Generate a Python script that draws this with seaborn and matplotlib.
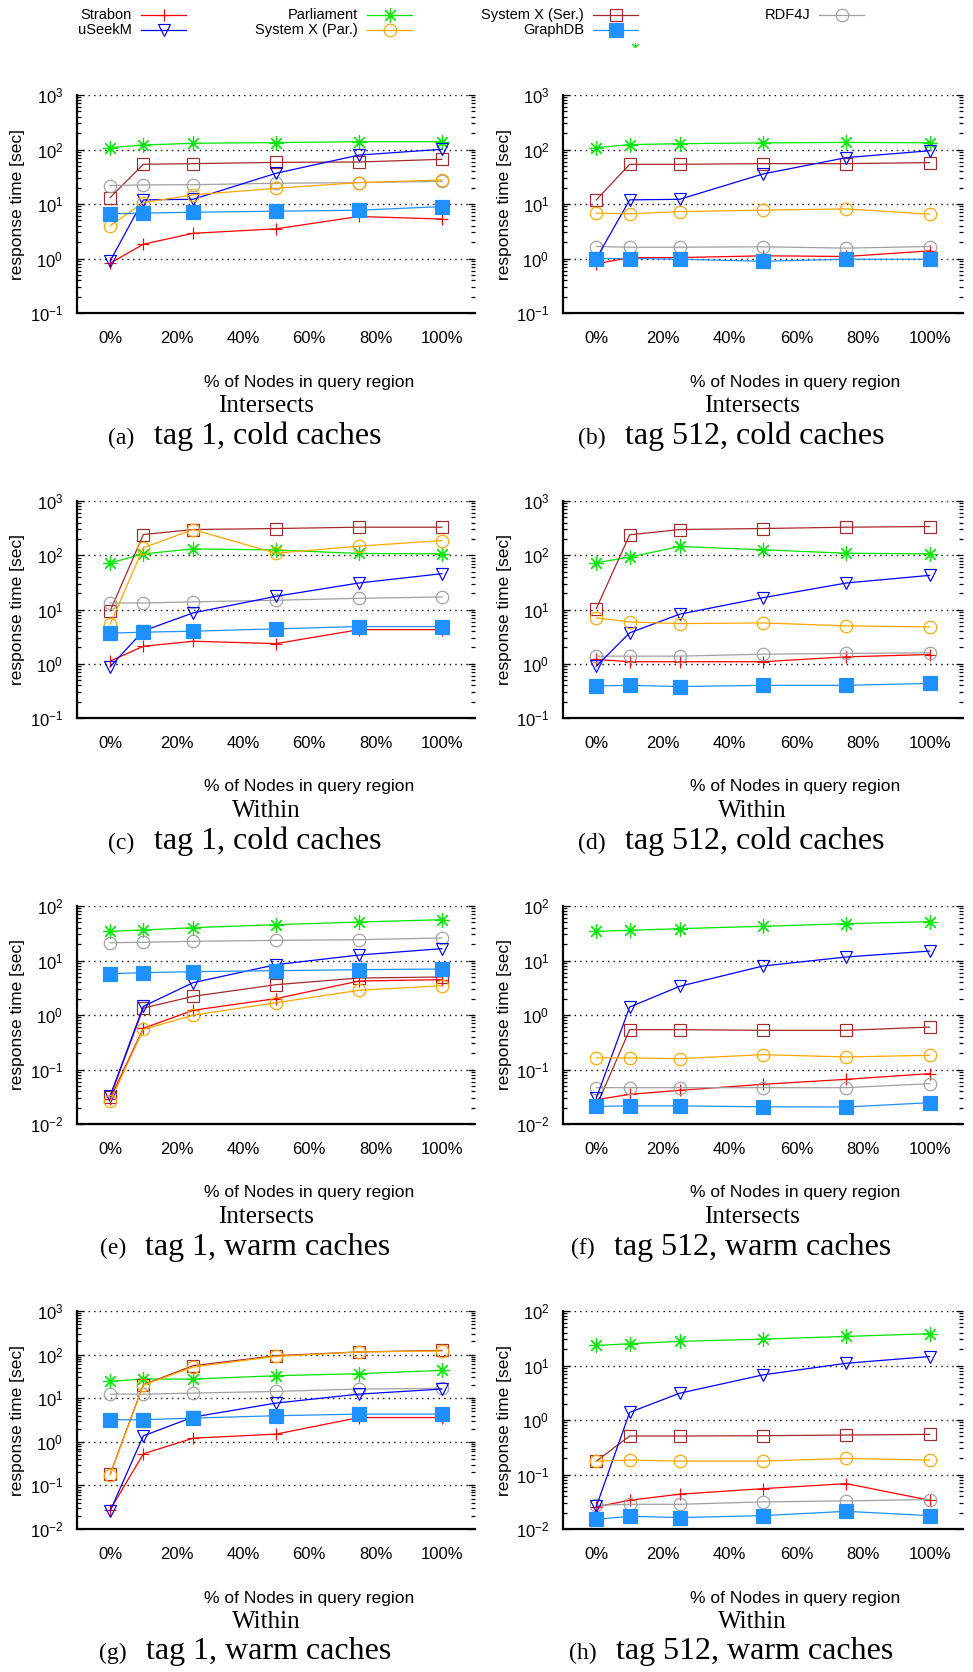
import numpy as np
import pandas as pd
import matplotlib
matplotlib.use('Agg')
import matplotlib.pyplot as plt
import seaborn as sns
from matplotlib.lines import Line2D
from matplotlib.path import Path
from matplotlib.offsetbox import TextArea, HPacker, AnnotationBbox
from matplotlib.ticker import LogLocator, NullFormatter

plt.rcParams['font.family'] = ['Liberation Sans', 'DejaVu Sans']
plt.rcParams['axes.unicode_minus'] = False
SERIF = ['Liberation Serif', 'DejaVu Serif']

# x: % of nodes in the query region
pct = [0, 10, 25, 50, 75, 100]

# response time [sec]; one row per panel (a) ... (h)
strabon = [
    [0.82, 1.83, 2.9, 3.5, 5.9, 5.3],
    [0.8, 1.04, 1.04, 1.12, 1.09, 1.38],
    [1.12, 2.1, 2.6, 2.35, 4.25, 4.25],
    [1.2, 1.09, 1.09, 1.09, 1.34, 1.48],
    [0.029, 0.57, 1.22, 2.0, 4.2, 4.45],
    [0.028, 0.035, 0.0415, 0.0535, 0.066, 0.084],
    [0.0275, 0.53, 1.21, 1.5, 3.6, 3.6],
    [0.0255, 0.0337, 0.0435, 0.055, 0.068, 0.0337],
]
parliament = [
    [108, 121, 130, 134, 139, 139],
    [108, 123, 128, 132, 135, 133],
    [72, 106, 131, 125, 108, 106],
    [72.7, 92.4, 145, 126, 109, 106],
    [34.3, 36.3, 40, 45.4, 50.8, 56.1],
    [34.3, 35.8, 38.4, 42.4, 47.4, 51.6],
    [24.3, 27.5, 27.5, 32.8, 36.5, 43.5],
    [23.3, 25.1, 27.7, 30.5, 34.2, 38.3],
]
sysx_ser = [
    [13.1, 53.5, 55, 58, 59, 66],
    [11.9, 53.5, 53.5, 55, 55, 57.4],
    [9.4, 241, 298, 311, 329, 329],
    [10.4, 238, 298, 311, 329, 338],
    [0.031, 1.34, 2.2, 3.6, 4.77, 4.98],
    [0.021, 0.538, 0.538, 0.523, 0.523, 0.60],
    [0.18, 20.4, 55.7, 94.5, 115, 125],
    [0.176, 0.508, 0.508, 0.515, 0.53, 0.545],
]
rdf4j = [
    [21.8, 22.4, 22.6, 24, 24.7, 26],
    [1.66, 1.61, 1.61, 1.64, 1.55, 1.66],
    [13.2, 13.2, 13.8, 14.8, 16.1, 17.0],
    [1.38, 1.38, 1.38, 1.5, 1.55, 1.59],
    [21.2, 21.6, 22.5, 23.4, 24.1, 25.9],
    [0.0464, 0.0464, 0.0464, 0.0464, 0.0464, 0.055],
    [12.4, 12.4, 13.1, 14.3, 16.2, 16.8],
    [0.0272, 0.0284, 0.0284, 0.0314, 0.0328, 0.0347],
]
useekm = [
    [0.9, 11.9, 12.2, 36.6, 79, 101],
    [1.0, 11.9, 12.2, 35.6, 71, 95],
    [0.88, 4.04, 8.65, 17.5, 30.8, 45.7],
    [0.9, 3.71, 8.2, 16.5, 30.8, 42.6],
    [0.033, 1.44, 3.92, 8.39, 12.6, 16.5],
    [0.03, 1.40, 3.36, 7.93, 11.6, 14.9],
    [0.026, 1.37, 3.69, 7.73, 12.4, 16.2],
    [0.026, 1.38, 3.1, 6.73, 11.0, 14.6],
]
sysx_par = [
    [4.0, 10.6, 14.7, 19.4, 24.7, 27.6],
    [6.78, 6.6, 7.26, 7.7, 8.13, 6.5],
    [5.35, 137, 298, 109, 147, 187],
    [7.0, 5.9, 5.5, 5.66, 4.99, 4.78],
    [0.026, 0.546, 0.99, 1.68, 2.84, 3.45],
    [0.163, 0.163, 0.158, 0.187, 0.17, 0.182],
    [0.175, 20, 52, 91, 115, 121],
    [0.176, 0.184, 0.176, 0.176, 0.197, 0.184],
]
graphdb = [
    [6.6, 6.8, 7.06, 7.37, 7.7, 8.97],
    [0.99, 1.0, 0.97, 0.89, 0.97, 0.97],
    [3.66, 3.82, 3.98, 4.4, 4.85, 4.85],
    [0.39, 0.40, 0.38, 0.40, 0.40, 0.435],
    [5.74, 5.98, 6.24, 6.5, 6.79, 6.98],
    [0.021, 0.0215, 0.0215, 0.0207, 0.0205, 0.0246],
    [3.2, 3.2, 3.5, 3.96, 4.32, 4.32],
    [0.0151, 0.0171, 0.0162, 0.0176, 0.0211, 0.0176],
]

panel_tags = ['(a)', '(b)', '(c)', '(d)', '(e)', '(f)', '(g)', '(h)']
captions = ['tag 1, cold caches', 'tag 512, cold caches',
            'tag 1, cold caches', 'tag 512, cold caches',
            'tag 1, warm caches', 'tag 512, warm caches',
            'tag 1, warm caches', 'tag 512, warm caches']
predicates = ['Intersects', 'Intersects', 'Within', 'Within',
              'Intersects', 'Intersects', 'Within', 'Within']
ylims = [(1e-1, 1e3), (1e-1, 1e3), (1e-1, 1e3), (1e-1, 1e3),
         (1e-2, 1e2), (1e-2, 1e2), (1e-2, 1e3), (1e-2, 1e2)]

# plotting order follows the gnuplot key (GraphDB ends up on top)
series = [
    ('Strabon', strabon, '#ff0000', '+', 8, False),
    ('Parliament', parliament, '#00e600', (8, 2, 0), 10.5, False),
    ('System X (Ser.)', sysx_ser, '#a52a2a', 's', 9, False),
    ('RDF4J', rdf4j, '#a0a0a0', 'o', 9, False),
    ('uSeekM', useekm, '#0000ff', 'v', 8.5, False),
    ('System X (Par.)', sysx_par, '#ffa500', 'o', 9, False),
    ('GraphDB', graphdb, '#1e90ff', 's', 9.5, True),
]

rows = []
for name, vals, *_ in series:
    for p, row in enumerate(vals):
        for x, v in zip(pct, row):
            rows.append({'panel': p, 'system': name, 'pct': x, 'time': v})
df = pd.DataFrame(rows)

W, H = 973, 1672
fig = plt.figure(figsize=(W / 100, H / 100), dpi=100)

col_x = [(77, 475), (563, 963)]
row_y = [(95, 313), (501, 718), (906, 1124), (1311, 1529)]


def fx(px):
    return px / W


def fy(py):
    return 1 - py / H


for p in range(8):
    l, r = col_x[p % 2]
    t, b = row_y[p // 2]
    ax = fig.add_axes([fx(l), fy(b), (r - l) / W, (b - t) / H])
    sub = df[df['panel'] == p]
    for k, (name, vals, c, m, ms, filled) in enumerate(series):
        d = sub[sub['system'] == name]
        sns.lineplot(data=d, x='pct', y='time', ax=ax, color=c, marker=m,
                     markersize=ms, mec=c, mfc=c if filled else 'none',
                     mew=0.85, lw=0.9, estimator=None, legend=False,
                     zorder=3 + k)
    ax.set_yscale('log')
    ax.set_ylim(*ylims[p])
    ax.set_xlim(-10, 110)
    ax.yaxis.set_major_locator(LogLocator(base=10, numticks=12))
    ax.yaxis.set_minor_locator(LogLocator(base=10, subs=np.arange(2, 10), numticks=12))
    ax.yaxis.set_minor_formatter(NullFormatter())
    ax.set_xticks([0, 20, 40, 60, 80, 100])
    ax.set_xticklabels(['0%', '20%', '40%', '60%', '80%', '100%'])
    ax.tick_params(axis='x', length=0, pad=13, labelsize=12)
    ax.tick_params(axis='y', which='both', direction='in', left=True, right=True,
                   width=0.9, labelsize=12, pad=10)
    ax.tick_params(axis='y', which='major', length=5)
    ax.tick_params(axis='y', which='minor', length=3)
    ax.spines['top'].set_visible(False)
    ax.spines['right'].set_visible(False)
    ax.spines['left'].set_linewidth(1.6)
    ax.spines['bottom'].set_linewidth(1.6)
    ax.set_axisbelow(True)
    ax.yaxis.grid(True, which='major', color='black', lw=1.0, linestyle=(0, (1, 3)))
    ax.xaxis.grid(False)
    ax.set_facecolor('white')

    ax.set_xlabel('% of Nodes in query region', fontsize=12.5)
    ax.xaxis.set_label_coords(232 / (r - l), -69 / (b - t))
    ax.xaxis.label.set_va('center')
    ax.set_ylabel('response time [sec]', fontsize=12.5)
    ax.yaxis.set_label_coords(-59 / (r - l), 0.5)
    ax.yaxis.label.set_va('center')

    fig.text(fx(l + 189), fy(b + 93), predicates[p], family=SERIF,
             fontsize=18, ha='center', va='center')
    tag = TextArea(panel_tags[p], textprops=dict(family=SERIF, size=17))
    cap = TextArea(captions[p], textprops=dict(family=SERIF, size=23))
    box = HPacker(children=[tag, cap], align='baseline', pad=0, sep=14)
    ab = AnnotationBbox(box, (fx(l + 168), fy(b + 123)), xycoords='figure fraction',
                        frameon=False, box_alignment=(0.5, 0.5), pad=0)
    fig.add_artist(ab)

# key at the top, laid out like the gnuplot one (text right-aligned, sample after it)
key_pos = {
    'Strabon': (132, 15), 'Parliament': (358, 15), 'System X (Ser.)': (584, 15),
    'RDF4J': (810, 15), 'uSeekM': (132, 30), 'System X (Par.)': (358, 30),
    'GraphDB': (584, 30),
}
for name, vals, c, m, ms, filled in series:
    xr, yy = key_pos[name]
    fig.text(fx(xr), fy(yy), name, ha='right', va='center', fontsize=10.5)
    fig.add_artist(Line2D([fx(xr + 9), fx(xr + 54)], [fy(yy), fy(yy)],
                          transform=fig.transFigure, color=c, lw=0.9))
    fig.add_artist(Line2D([fx(xr + 31.5)], [fy(yy)], transform=fig.transFigure,
                          marker=m, markersize=ms, mec=c, mfc=c if filled else 'none',
                          mew=0.85, lw=0))

# stray bit of a green point symbol under the key
stray = Path([(-1, 1), (0, 0), (0, 1), (0, 0), (1, 1)],
             [Path.MOVETO, Path.LINETO, Path.LINETO, Path.LINETO, Path.LINETO])
fig.add_artist(Line2D([fx(635)], [fy(47)], transform=fig.transFigure, marker=stray,
                      markersize=5, mec='#00e600', mfc='none', mew=0.9, lw=0))

fig.savefig('out.png', dpi=100)
